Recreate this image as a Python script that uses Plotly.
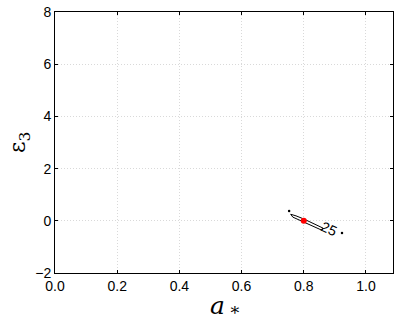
import plotly.graph_objects as go

# contour outline (a*, eps3)
contour_x = [0.758, 0.775, 0.800, 0.825, 0.850, 0.862, 0.858, 0.835, 0.810, 0.785, 0.765, 0.758]
contour_y = [0.25, 0.19, 0.07, -0.06, -0.20, -0.28, -0.36, -0.24, -0.11, 0.02, 0.14, 0.25]
contour_label = "25"
label_pos = (0.882, -0.33)

# small stray contour fragments
frag_x = [0.753, 0.923]
frag_y = [0.38, -0.47]

# best fit
best_x = [0.80]
best_y = [0.0]

xticks = [0.0, 0.2, 0.4, 0.6, 0.8, 1.0]
yticks = [-2, 0, 2, 4, 6, 8]

fig = go.Figure()
fig.add_trace(go.Scatter(x=contour_x, y=contour_y, mode="lines",
                         line=dict(color="black", width=1)))
fig.add_trace(go.Scatter(x=frag_x, y=frag_y, mode="markers",
                         marker=dict(color="black", size=2.5)))
fig.add_trace(go.Scatter(x=best_x, y=best_y, mode="markers",
                         marker=dict(color="red", size=6)))

fig.add_annotation(x=label_pos[0], y=label_pos[1], text=contour_label, showarrow=False,
                   textangle=25, font=dict(family="Liberation Sans", size=14, color="black"))

# axis titles as annotations so they don't push the margins
fig.add_annotation(x=0.5, y=0, xref="paper", yref="paper", yshift=-52, showarrow=False,
                   text="<i>a</i><sub> *</sub>",
                   font=dict(family="DejaVu Serif", size=25, color="black"))
fig.add_annotation(x=0, y=0.5, xref="paper", yref="paper", xshift=-52, showarrow=False,
                   text="\u03b5<sub>3</sub>", textangle=-90,
                   font=dict(family="DejaVu Serif", size=22, color="black"))

axis_common = dict(showline=True, linecolor="black", linewidth=1, mirror="ticks",
                   ticks="inside", ticklen=3, tickcolor="black",
                   showgrid=True, gridcolor="#d9d9d9", griddash="1px,2px", gridwidth=1,
                   zeroline=False, automargin=False,
                   tickfont=dict(family="Liberation Sans", size=14, color="black"))

fig.update_xaxes(range=[0, 1.087], tickvals=xticks, ticktext=["%.1f" % v for v in xticks],
                 **axis_common)
fig.update_yaxes(range=[-2, 8], tickvals=yticks, ticktext=["\u22122" if v < 0 else str(v) for v in yticks],
                 **axis_common)

fig.update_layout(width=398, height=327, showlegend=False,
                  margin=dict(l=55, r=5, t=12, b=54),
                  plot_bgcolor="white", paper_bgcolor="white")

# drop the default 8px body margin so the figure sits at the page corner
fig.write_html("out.html", config={"displayModeBar": False},
               post_script="document.body.style.margin='0';")
